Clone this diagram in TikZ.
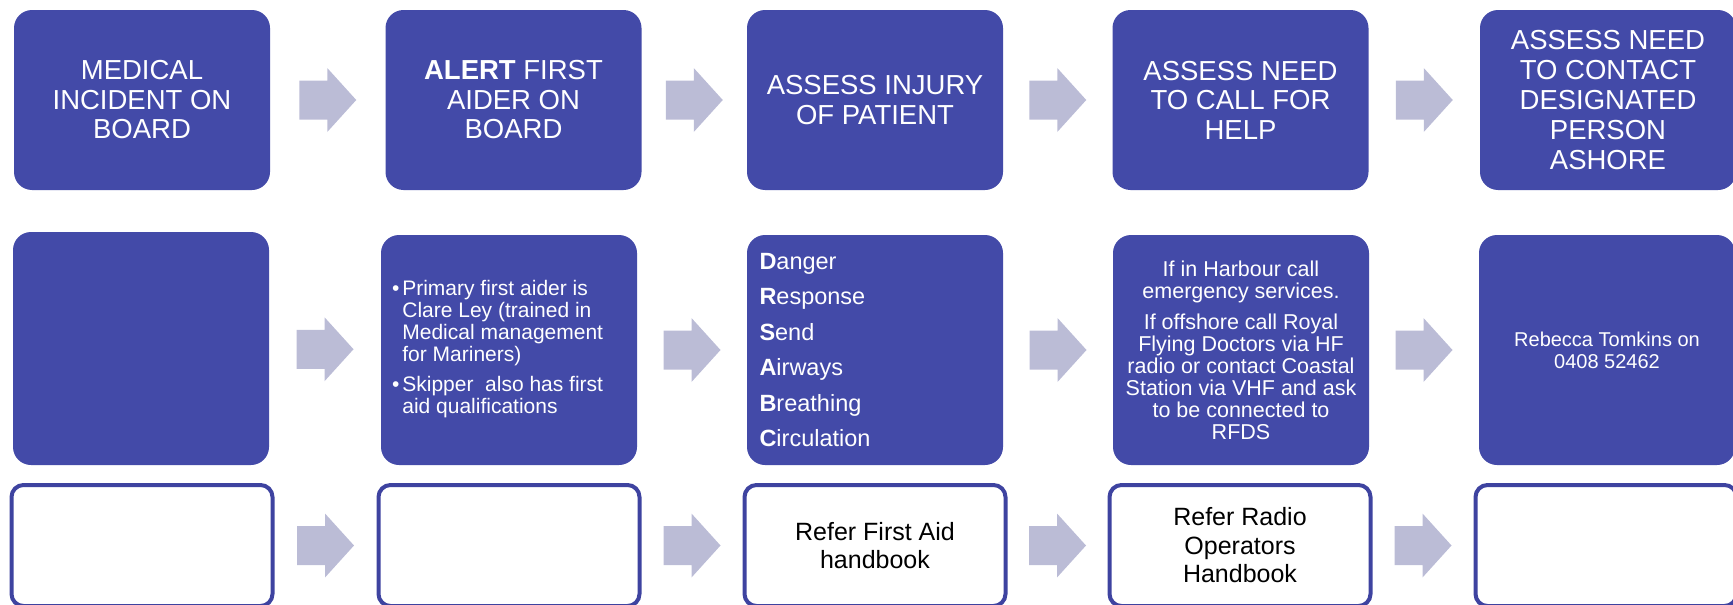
\documentclass[tikz,border=0pt]{standalone}
\usepackage{fontspec}
\setmainfont{Liberation Sans}
\usetikzlibrary{calc}
\definecolor{boxblue}{RGB}{67,74,168}
\definecolor{edgeblue}{RGB}{62,67,160}
\definecolor{arrowgrey}{RGB}{187,188,214}
\begin{document}
\begin{tikzpicture}[x=1pt,y=-1pt,
  fillbox/.style={rectangle, rounded corners=18pt, fill=boxblue, text=white, inner sep=0pt, minimum width=256pt, align=center},
  headbox/.style={fillbox, minimum height=180pt, font=\fontsize{27.5}{29.5}\selectfont},
  midbox/.style={fillbox, minimum height=230pt},
  linebox/.style={rectangle, rounded corners=12pt, draw=edgeblue, line width=4pt, fill=white, text=black, inner sep=0pt, minimum width=261pt, minimum height=121pt, align=center, font=\fontsize{25}{28.5}\selectfont},
  plaintext/.style={inner sep=0pt, text=white},
  barrow/.pic={\fill[arrowgrey] (-28.5,-19.5) -- (-0.5,-19.5) -- (-0.5,-32) -- (28.5,0) -- (-0.5,32) -- (-0.5,19.5) -- (-28.5,19.5) -- cycle;}
]
\useasboundingbox (0,0) rectangle (1733,605);

% Row 1
\node[headbox] (a1) at (142,100) {MEDICAL\\INCIDENT ON\\BOARD};
\node[headbox] (a2) at (513.5,100) {\textbf{ALERT} FIRST\\AIDER ON\\BOARD};
\node[headbox] (a3) at (875,100) {ASSESS INJURY\\OF PATIENT};
\node[headbox] (a4) at (1240.5,100) {ASSESS NEED\\TO CALL FOR\\HELP};
\node[headbox, font=\fontsize{27.5}{30}\selectfont] (a5) at (1608,100) {ASSESS NEED\\TO CONTACT\\DESIGNATED\\PERSON\\ASHORE};

% Row 2
\node[midbox, minimum height=233pt] (b1) at (141,348.5) {};
\node[midbox] (b2) at (509,350) {};
\node[plaintext, anchor=west, font=\fontsize{21}{22}\selectfont] (t2) at ([xshift=11pt]b2.west)
  {\begin{tabular}{@{}l@{\hspace{3pt}}l@{}}
   •&Primary first aider is\\
    &Clare Ley (trained in\\
    &Medical management\\
    &for Mariners)\\[8pt]
   •&Skipper\ \ also has first\\
    &aid qualifications
   \end{tabular}};
\node[midbox] (b3) at (875,350) {};
\node[plaintext, anchor=west, align=left, font=\fontsize{23.5}{35.4}\selectfont] (t3) at ([xshift=12.5pt]b3.west)
  {\textbf{D}anger\\\textbf{R}esponse\\\textbf{S}end\\\textbf{A}irways\\\textbf{B}reathing\\\textbf{C}irculation};
\node[midbox, font=\fontsize{21.5}{22}\selectfont] (b4) at (1241,350)
  {If in Harbour call\\emergency services.\\[9pt]If offshore call Royal\\Flying Doctors via HF\\radio or contact Coastal\\Station via VHF and ask\\to be connected to\\RFDS};
\node[midbox, font=\fontsize{20}{22}\selectfont] (b5) at (1607,350) {Rebecca Tomkins on\\0408 52462};

% Row 3
\node[linebox] (c1) at (142,545.5) {};
\node[linebox] (c2) at (509,545.5) {};
\node[linebox] (c3) at (875,545.5) {Refer First Aid\\handbook};
\node[linebox] (c4) at (1240,545.5) {Refer Radio\\Operators\\Handbook};
\node[linebox] (c5) at (1606,545.5) {};

% Block arrows
\foreach \r in {a,b,c}{
  \foreach \i/\j in {1/2,2/3,3/4,4/5}{
    \pic at ($(\r\i.east)!0.5!(\r\j.west)$) {barrow};
  }
}
\end{tikzpicture}
\end{document}
